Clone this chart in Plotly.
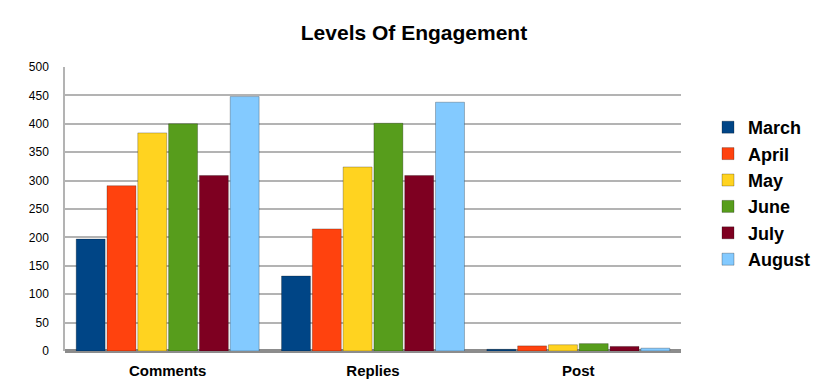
import plotly.graph_objects as go

categories = ["Comments", "Replies", "Post"]
months = ["March", "April", "May", "June", "July", "August"]
march = [197, 132, 3]
april = [291, 215, 9]
may = [384, 324, 11]
june = [400, 401, 13]
july = [309, 309, 8]
august = [448, 438, 5]
series = [march, april, may, june, july, august]
colors = ["#004586", "#ff420e", "#ffd320", "#579d1c", "#7e0021", "#83caff"]
y_ticks = [0, 50, 100, 150, 200, 250, 300, 350, 400, 450, 500]

fig = go.Figure()
for name, vals, col in zip(months, series, colors):
    fig.add_trace(go.Bar(
        x=categories, y=vals, name="<b>" + name + "</b>",
        marker=dict(color=col, line=dict(color="rgba(0,0,0,0.25)", width=1)),
    ))

fig.update_layout(
    width=828, height=387,
    margin=dict(l=65, r=147, t=67, b=36),
    paper_bgcolor="white", plot_bgcolor="white",
    barmode="group", bargap=0.1, bargroupgap=0.06,
    title=dict(text="<b>Levels Of Engagement</b>", x=0.5, xanchor="center",
               y=0.915, yanchor="middle",
               font=dict(family="Liberation Sans, Arial, sans-serif", size=21, color="black")),
    font=dict(family="Liberation Sans, Arial, sans-serif", color="black"),
    xaxis=dict(showline=False, ticks="", showgrid=False, automargin=False,
               tickfont=dict(size=15, color="black"),
               tickprefix="<b>", ticksuffix="</b>", ticklabelstandoff=9),
    yaxis=dict(range=[0, 500], tickvals=y_ticks, showgrid=True, automargin=False,
               gridcolor="#b3b3b3", gridwidth=1.5, showline=True,
               linecolor="#b3b3b3", linewidth=1.5, zeroline=True,
               zerolinecolor="#8c8c8c", zerolinewidth=4,
               tickfont=dict(size=12, color="black"), ticks="",
               ticklabelstandoff=12),
    legend=dict(xref="container", yref="container", x=708/828, y=0.5,
                xanchor="left", yanchor="middle",
                font=dict(size=18, color="black"), tracegroupgap=0,
                itemwidth=30, bgcolor="rgba(0,0,0,0)"),
)

fig.write_html("out.html")
